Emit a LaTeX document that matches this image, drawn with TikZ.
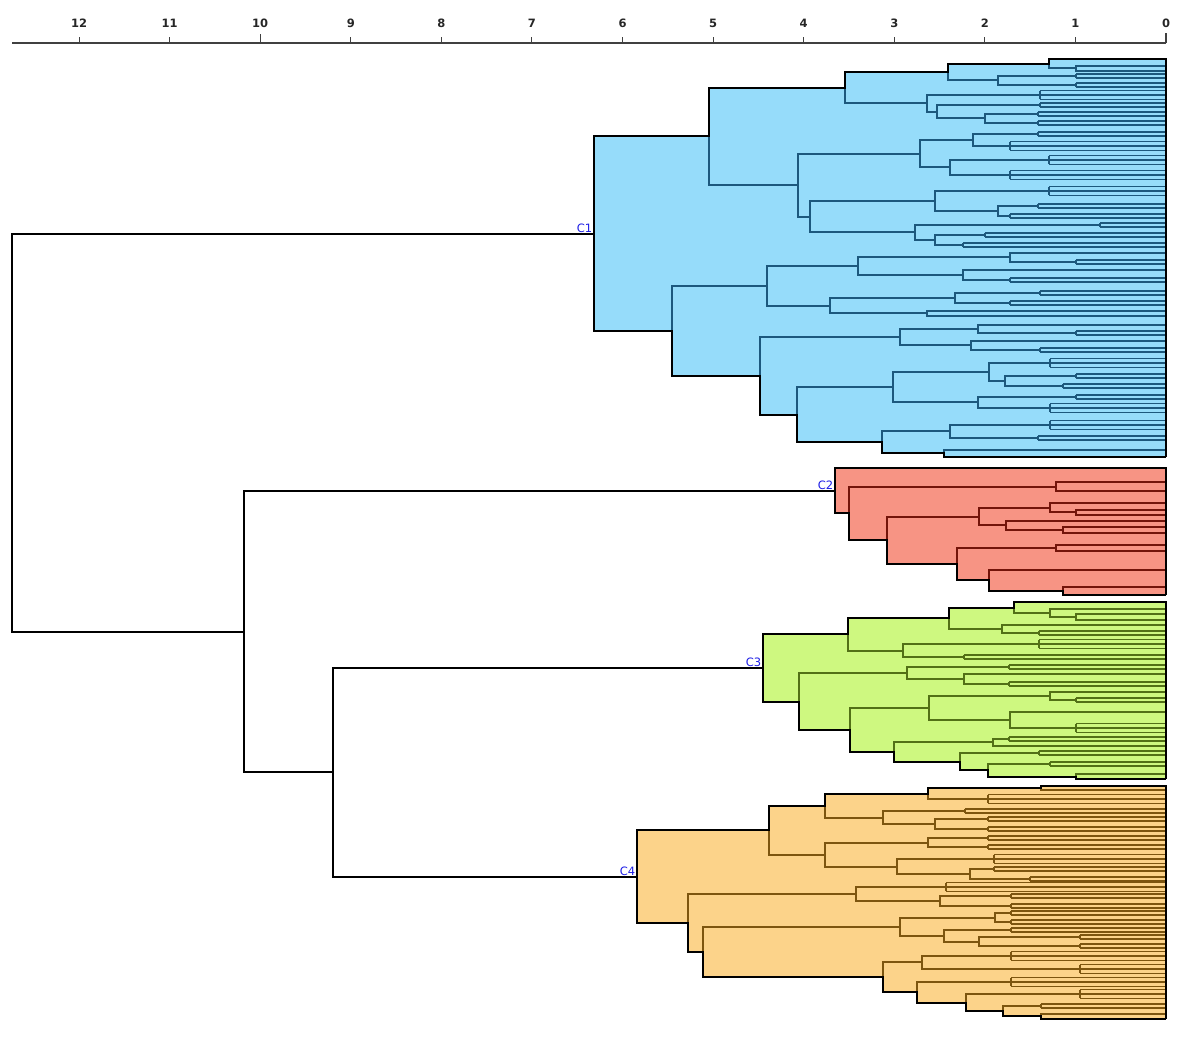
\documentclass[tikz,border=0pt]{standalone}
\usepackage{fontspec}
\setmainfont{DejaVu Sans}
\pgfdeclarelayer{bg}
\pgfsetlayers{bg,main}
\definecolor{fA}{RGB}{150,220,250}
\definecolor{lA}{RGB}{28,88,125}
\definecolor{fB}{RGB}{247,148,132}
\definecolor{lB}{RGB}{115,20,10}
\definecolor{fC}{RGB}{206,248,128}
\definecolor{lC}{RGB}{82,112,22}
\definecolor{fD}{RGB}{252,211,138}
\definecolor{lD}{RGB}{125,85,15}
\definecolor{lblblue}{RGB}{30,30,230}
\tikzset{
  mainline/.style={draw=black, line width=2.2pt},
  outerline/.style={draw=black, line width=2.2pt, line join=miter},
  axisline/.style={draw=black!75, line width=1.4pt},
  clabel/.style={text=lblblue, font=\fontsize{11.5}{13}\selectfont, inner sep=1.5pt, anchor=south east},
  ticklabel/.style={font=\fontsize{11.5}{13}\selectfont\bfseries, text=black!85, anchor=base},
}
\newcommand\dbr[5]{%
  \begin{pgfonlayer}{bg}\fill[clfill] (#1,#2) rectangle (1166,#4);\end{pgfonlayer}%
  \draw[clline] (#3,#2) -- (#1,#2) -- (#1,#4) -- (#5,#4);%
}
\newcommand\dgrp[3]{%
  \pgfmathsetmacro\gha{#2-(#3-1)*2.2}%
  \pgfmathsetmacro\ghb{#2+(#3-1)*2.2}%
  \begin{pgfonlayer}{bg}\fill[clfill] (#1,\gha) rectangle (1166,\ghb);\end{pgfonlayer}%
  \draw[clline] (#1,\gha) -- (#1,\ghb);%
  \foreach \i in {1,...,#3} {\draw[clline] (#1,{\gha+(\i-1)*4.4}) -- (1166,{\gha+(\i-1)*4.4});}%
}
\begin{document}
\begin{tikzpicture}[x=1pt,y=-1pt]
\useasboundingbox (0,0) rectangle (1181,1039);
\begin{pgfonlayer}{bg}\fill[white] (0,0) rectangle (1181,1039);\end{pgfonlayer}

% ---------------- C1 ----------------
\begin{scope}[clfill/.style={fill=fA}, clline/.style={draw=lA, line width=1.7pt}]
\dbr{1076}{66}{1166}{71}{1166}
\dbr{1049}{59}{1166}{68}{1076}
\dgrp{1076}{76}{2}
\dgrp{1076}{85}{2}
\dbr{998}{76}{1076}{85}{1076}
\dbr{948}{64}{1049}{80}{998}
\dgrp{1040}{95}{3}
\dgrp{1040}{105}{2}
\dgrp{1038}{114}{2}
\dgrp{1038}{123}{2}
\dbr{985}{114}{1038}{123}{1038}
\dbr{937}{105}{1040}{118}{985}
\dbr{927}{95}{1040}{112}{937}
\dbr{845}{72}{948}{103}{927}
\dgrp{1038}{134}{2}
\dgrp{1010}{146}{3}
\dbr{973}{134}{1038}{146}{1010}
\dgrp{1049}{160}{3}
\dgrp{1010}{175}{3}
\dbr{950}{160}{1049}{175}{1010}
\dbr{920}{140}{973}{167}{950}
\dgrp{1049}{191}{3}
\dgrp{1038}{206}{2}
\dgrp{1010}{216}{2}
\dbr{998}{206}{1038}{216}{1010}
\dbr{935}{191}{1049}{211}{998}
\dgrp{1100}{225}{2}
\dgrp{985}{235}{2}
\dgrp{963}{245}{2}
\dbr{935}{235}{985}{245}{963}
\dbr{915}{225}{1100}{240}{935}
\dbr{810}{201}{935}{232}{915}
\dbr{798}{154}{920}{217}{810}
\dbr{709}{88}{845}{185}{798}
\dgrp{1076}{262}{2}
\dbr{1010}{253}{1166}{262}{1076}
\dgrp{1010}{280}{2}
\dbr{963}{270}{1166}{280}{1010}
\dbr{858}{257}{1010}{275}{963}
\dgrp{1040}{293}{2}
\dgrp{1010}{303}{2}
\dbr{955}{293}{1040}{303}{1010}
\dbr{927}{311}{1166}{316}{1166}
\dbr{830}{298}{955}{313}{927}
\dbr{767}{266}{858}{306}{830}
\dgrp{1076}{333}{2}
\dbr{978}{325}{1166}{333}{1076}
\dgrp{1040}{350}{2}
\dbr{971}{341}{1166}{350}{1040}
\dbr{900}{329}{978}{345}{971}
\dgrp{1050}{363}{3}
\dgrp{1076}{376}{2}
\dgrp{1063}{386}{2}
\dbr{1005}{376}{1076}{386}{1063}
\dbr{989}{363}{1050}{381}{1005}
\dgrp{1076}{397}{2}
\dgrp{1050}{408}{3}
\dbr{978}{397}{1076}{408}{1050}
\dbr{893}{372}{989}{402}{978}
\dgrp{1050}{425}{3}
\dgrp{1038}{438}{2}
\dbr{950}{425}{1050}{438}{1038}
\dbr{944}{450}{1166}{457}{1166}
\dbr{882}{431}{950}{453}{944}
\dbr{797}{387}{893}{442}{882}
\dbr{760}{337}{900}{415}{797}
\dbr{672}{286}{767}{376}{760}
\dbr{594}{136}{709}{331}{672}
\draw[outerline] (594,234) -- (594,136) -- (709,136) -- (709,88) -- (845,88) -- (845,72) -- (948,72) -- (948,64) -- (1049,64) -- (1049,59) -- (1166,59) -- (1166,457);
\draw[outerline] (594,234) -- (594,331) -- (672,331) -- (672,376) -- (760,376) -- (760,415) -- (797,415) -- (797,442) -- (882,442) -- (882,453) -- (944,453) -- (944,457) -- (1166,457);
\end{scope}

% ---------------- C2 ----------------
\begin{scope}[clfill/.style={fill=fB}, clline/.style={draw=lB, line width=1.7pt}]
\dbr{1056}{482}{1166}{491}{1166}
\dbr{1076}{510}{1166}{515}{1166}
\dbr{1050}{503}{1166}{512}{1076}
\dbr{1063}{527}{1166}{533}{1166}
\dbr{1006}{521}{1166}{530}{1063}
\dbr{979}{508}{1050}{525}{1006}
\dbr{1056}{545}{1166}{551}{1166}
\dbr{1063}{587}{1166}{595}{1166}
\dbr{989}{570}{1166}{591}{1063}
\dbr{957}{548}{1056}{580}{989}
\dbr{887}{517}{979}{564}{957}
\dbr{849}{487}{1056}{540}{887}
\dbr{835}{468}{1166}{513}{849}
\draw[outerline] (835,491) -- (835,468) -- (1166,468) -- (1166,595);
\draw[outerline] (835,491) -- (835,513) -- (849,513) -- (849,540) -- (887,540) -- (887,564) -- (957,564) -- (957,580) -- (989,580) -- (989,591) -- (1063,591) -- (1063,595) -- (1166,595);
\end{scope}

% ---------------- C3 ----------------
\begin{scope}[clfill/.style={fill=fC}, clline/.style={draw=lC, line width=1.7pt}]
\dbr{1076}{614}{1166}{620}{1166}
\dbr{1050}{609}{1166}{617}{1076}
\dbr{1014}{602}{1166}{613}{1050}
\dgrp{1039}{633}{2}
\dbr{1002}{625}{1166}{633}{1039}
\dbr{949}{608}{1014}{629}{1002}
\dgrp{1039}{644}{3}
\dgrp{964}{657}{2}
\dbr{903}{644}{1039}{657}{964}
\dbr{848}{618}{949}{651}{903}
\dgrp{1009}{667}{2}
\dgrp{1009}{684}{2}
\dbr{964}{674}{1166}{684}{1009}
\dbr{907}{667}{1009}{679}{964}
\dgrp{1076}{700}{2}
\dbr{1050}{692}{1166}{700}{1076}
\dgrp{1076}{728}{3}
\dbr{1010}{712}{1166}{728}{1076}
\dbr{929}{696}{1050}{720}{1010}
\dgrp{1009}{739}{2}
\dbr{993}{739}{1009}{746}{1166}
\dgrp{1039}{753}{2}
\dgrp{1050}{764}{2}
\dbr{1076}{774}{1166}{779}{1166}
\dbr{988}{764}{1050}{777}{1076}
\dbr{960}{753}{1039}{770}{988}
\dbr{894}{742}{993}{762}{960}
\dbr{850}{708}{929}{752}{894}
\dbr{799}{673}{907}{730}{850}
\dbr{763}{634}{848}{702}{799}
\draw[outerline] (763,668) -- (763,634) -- (848,634) -- (848,618) -- (949,618) -- (949,608) -- (1014,608) -- (1014,602) -- (1166,602) -- (1166,779);
\draw[outerline] (763,668) -- (763,702) -- (799,702) -- (799,730) -- (850,730) -- (850,752) -- (894,752) -- (894,762) -- (960,762) -- (960,770) -- (988,770) -- (988,777) -- (1076,777) -- (1076,779) -- (1166,779);
\end{scope}

% ---------------- C4 ----------------
\begin{scope}[clfill/.style={fill=fD}, clline/.style={draw=lD, line width=1.7pt}]
\dbr{1041}{786}{1166}{790}{1166}
\dgrp{988}{799}{3}
\dbr{928}{788}{1041}{799}{988}
\dgrp{965}{811}{2}
\dgrp{988}{819}{2}
\dgrp{988}{829}{2}
\dbr{935}{819}{988}{829}{988}
\dbr{883}{811}{965}{824}{935}
\dbr{825}{794}{928}{818}{883}
\dgrp{988}{838}{2}
\dgrp{988}{847}{2}
\dbr{928}{838}{988}{847}{988}
\dgrp{994}{859}{3}
\dgrp{994}{869}{2}
\dgrp{1030}{879}{2}
\dbr{970}{869}{994}{879}{1030}
\dbr{897}{859}{994}{874}{970}
\dbr{825}{843}{928}{867}{897}
\dbr{769}{806}{825}{855}{825}
\dgrp{946}{887}{3}
\dgrp{1011}{896}{2}
\dgrp{1011}{906}{2}
\dbr{940}{896}{1011}{906}{1011}
\dbr{856}{887}{946}{901}{940}
\dgrp{1011}{913}{2}
\dgrp{1011}{922}{2}
\dbr{995}{913}{1011}{922}{1011}
\dgrp{1011}{930}{2}
\dgrp{1080}{937}{2}
\dgrp{1080}{946}{2}
\dbr{979}{937}{1080}{946}{1080}
\dbr{944}{930}{1011}{942}{979}
\dbr{900}{918}{995}{936}{944}
\dgrp{1011}{956}{3}
\dgrp{1080}{969}{3}
\dbr{922}{956}{1011}{969}{1080}
\dgrp{1011}{982}{3}
\dgrp{1080}{994}{3}
\dgrp{1041}{1006}{2}
\dbr{1041}{1014}{1166}{1019}{1166}
\dbr{1003}{1006}{1041}{1016}{1041}
\dbr{966}{994}{1080}{1011}{1003}
\dbr{917}{982}{1011}{1003}{966}
\dbr{883}{962}{922}{992}{917}
\dbr{703}{927}{900}{977}{883}
\dbr{688}{894}{856}{952}{703}
\dbr{637}{830}{769}{923}{688}
\draw[outerline] (637,877) -- (637,830) -- (769,830) -- (769,806) -- (825,806) -- (825,794) -- (928,794) -- (928,788) -- (1041,788) -- (1041,786) -- (1166,786) -- (1166,1019);
\draw[outerline] (637,877) -- (637,923) -- (688,923) -- (688,952) -- (703,952) -- (703,977) -- (883,977) -- (883,992) -- (917,992) -- (917,1003) -- (966,1003) -- (966,1011) -- (1003,1011) -- (1003,1016) -- (1041,1016) -- (1041,1019) -- (1166,1019);
\end{scope}

% ---------------- main tree ----------------
\coordinate (root) at (12,433);
\coordinate (c1) at (594,234);
\coordinate (c2) at (835,491);
\coordinate (c3) at (763,668);
\coordinate (c4) at (637,877);
\coordinate (n244) at (244,632);
\coordinate (n333) at (333,772);
\draw[mainline] (c1) -| (root) |- (n244);
\draw[mainline] (c2) -| (n244) |- (n333);
\draw[mainline] (c3) -| (n333) |- (c4);

\node[clabel] (lc1) at (c1) {C1};
\node[clabel] (lc2) at (c2) {C2};
\node[clabel] (lc3) at (c3) {C3};
\node[clabel] (lc4) at (c4) {C4};

% ---------------- axis ----------------
\coordinate (axL) at (12,43);
\coordinate (axR) at (1166,43);
\draw[axisline] (axL) -- (axR);
\foreach \v in {0,...,12} {
  \pgfmathsetmacro\tx{1166-90.58*\v}
  \draw[axisline, line width=1pt] (\tx,43) -- (\tx,37);
  \node[ticklabel] (t\v) at (\tx,27) {\v};
}
\draw[axisline, line width=1.4pt] (1166,43) -- (1166,33);
\draw[axisline, line width=1.4pt] (260.2,43) -- (260.2,34);
\end{tikzpicture}
\end{document}
